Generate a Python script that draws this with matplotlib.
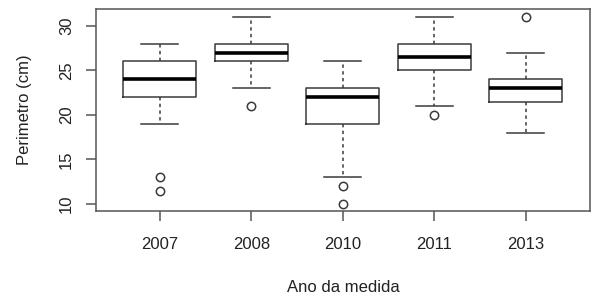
import matplotlib.pyplot as plt

plt.rcParams['font.family'] = ['Liberation Sans', 'DejaVu Sans']

years = ["2007", "2008", "2010", "2011", "2013"]
whislo = [19, 23, 13, 21, 18]
q1 = [22, 26, 19, 25, 21.5]
med = [24, 27, 22, 26.5, 23]
q3 = [26, 28, 23, 28, 24]
whishi = [28, 31, 26, 31, 27]
fliers = [[13, 11.5], [21], [12, 10], [20], [31]]

stats = []
for i, y in enumerate(years):
    stats.append(dict(label=y, whislo=whislo[i], q1=q1[i], med=med[i],
                      q3=q3[i], whishi=whishi[i], fliers=fliers[i]))

fig = plt.figure(figsize=(5.91, 2.98), dpi=100)
ax = fig.add_axes([0.162, 0.292, 0.836, 0.678])

col = "#3a3a3a"
ax.bxp(stats, positions=range(1, 6), widths=0.8, showfliers=True,
       boxprops=dict(color=col, linewidth=1.1),
       medianprops=dict(color="black", linewidth=2.6),
       whiskerprops=dict(color=col, linewidth=1.1, linestyle=(0, (2.2, 2.2))),
       capprops=dict(color=col, linewidth=1.1),
       capwidths=0.4,
       flierprops=dict(marker="o", markerfacecolor="none", markeredgecolor=col,
                       markersize=6, markeredgewidth=1.1))

ax.set_xlim(0.3, 5.7)
ax.set_ylim(9.2, 31.9)
ax.set_yticks([10, 15, 20, 25, 30])
ax.set_yticklabels(["10", "15", "20", "25", "30"], rotation=90, va="center")
ax.tick_params(axis="both", length=7.5, width=1.1, color="#555555",
               labelsize=12, labelcolor="#222222")
ax.tick_params(axis="y", pad=8)
ax.tick_params(axis="x", pad=11)
for s in ax.spines.values():
    s.set_color("#555555")
    s.set_linewidth(1.1)

fig.text(25 / 591, 1 - 110 / 298, "Perimetro (cm)", rotation=90, fontsize=12,
         color="#222222", ha="center", va="center")
fig.text(343 / 591, 1 - 288 / 298, "Ano da medida", fontsize=12,
         color="#222222", ha="center", va="center")

fig.savefig("out.png", dpi=100)
